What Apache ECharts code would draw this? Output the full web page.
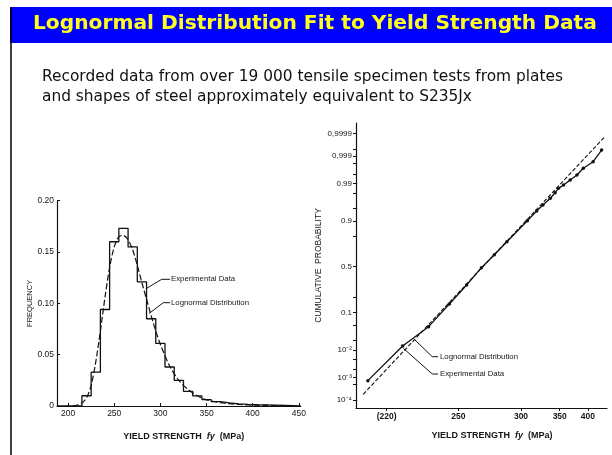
<!DOCTYPE html>
<html><head><meta charset="utf-8">
<script src="https://cdn.jsdelivr.net/npm/echarts@6/dist/echarts.min.js"></script>
<style>html,body{margin:0;padding:0;background:#fff}#c{width:612px;height:455px}</style>
</head><body><div id="c"></div>
<script>
// ---------- data ----------
// Left: histogram of yield strength, 10 MPa bins (lower edges) and relative frequency
const histBinStart = [215,225,235,245,255,265,275,285,295,305,315,325,335,345,355,365,375,385,395,405,415,425];
const histFreq     = [0.010,0.033,0.094,0.160,0.173,0.155,0.121,0.085,0.061,0.038,0.025,0.0143,0.0098,0.0063,0.0043,0.003,0.002,0.0015,0.0012,0.001,0.0008,0.0005];
const histBinWidth = 10;
// Left: fitted lognormal frequency curve
const lognPdfX = [205,210,215,220,225,230,235,240,245,250,255,260,265,270,275,280,285,290,295,300,310,320,330,340,350,360,370,380,390,400,420,440];
const lognPdfY = [0,0.001,0.003,0.008,0.020,0.043,0.073,0.106,0.135,0.155,0.165,0.166,0.162,0.152,0.137,0.120,0.104,0.088,0.073,0.060,0.039,0.025,0.016,0.010,0.006,0.004,0.0027,0.0018,0.0012,0.0008,0.0004,0.0002];
// Right: cumulative probability, experimental points
const expX = [215,225,235,245,255,265,275,286,307,318,326,336,343,348,356,367,379,391,411,430];
const expP = [0.00073,0.0134,0.047,0.149,0.305,0.489,0.631,0.757,0.9006,0.940,0.9576,0.972,0.9806,0.9857,0.98876,0.99228,0.99478,0.99701,0.99832,0.99944];
// Right: fitted lognormal (straight line on the probability paper)
const lognCdfX = [213.9, 437.9];
const lognCdfP = [0.000183, 0.999861];
// axis ticks
const leftXTicks = [200,250,300,350,400,450];
const leftYTicks = [0,0.05,0.10,0.15,0.20];
const leftYTickLabels = ['0','0.05','0.10','0.15','0.20'];
const rightXTicks = [220,250,300,350,400];
const rightXTickLabels = ['(220)','250','300','350','400'];
const rightYTicks = [0.0001,0.001,0.01,0.1,0.5,0.9,0.99,0.999,0.9999];
const rightYTickLabels = ['10\u207B\u2074','10\u207B\u00B3','10\u207B\u00B2','0.1','0.5','0.9','0.99','0,999','0,9999'];
const rightYMinor = [0.0005,0.002,0.005,0.02,0.05,0.2,0.8,0.95,0.98,0.995,0.998,0.9995];
const THRESHOLD = 190; // lognormal paper: log(fy - 190)

// ---------- probability-paper scale (inverse normal CDF) ----------
function probit(p){
  const a=[-3.969683028665376e+01,2.209460984245205e+02,-2.759285104469687e+02,1.383577518672690e+02,-3.066479806614716e+01,2.506628277459239e+00];
  const b=[-5.447609879822406e+01,1.615858368580409e+02,-1.556989798598866e+02,6.680131188771972e+01,-1.328068155288572e+01];
  const c=[-7.784894002430293e-03,-3.223964580411365e-01,-2.400758277161838e+00,-2.549732539343734e+00,4.374664141464968e+00,2.938163982698783e+00];
  const d=[7.784695709041462e-03,3.224671290700398e-01,2.445134137142996e+00,3.754408661907416e+00];
  const pl=0.02425, ph=1-pl; let q,r;
  if(p<pl){q=Math.sqrt(-2*Math.log(p));return (((((c[0]*q+c[1])*q+c[2])*q+c[3])*q+c[4])*q+c[5])/((((d[0]*q+d[1])*q+d[2])*q+d[3])*q+1);}
  if(p>ph){q=Math.sqrt(-2*Math.log(1-p));return -(((((c[0]*q+c[1])*q+c[2])*q+c[3])*q+c[4])*q+c[5])/((((d[0]*q+d[1])*q+d[2])*q+d[3])*q+1);}
  q=p-0.5;r=q*q;return (((((a[0]*r+a[1])*r+a[2])*r+a[3])*r+a[4])*r+a[5])*q/(((((b[0]*r+b[1])*r+b[2])*r+b[3])*r+b[4])*r+1);
}

// ---------- build series data ----------
const histData = [[188,0]];
histBinStart.forEach((x,i)=>histData.push([x,histFreq[i]]));
histData.push([histBinStart[histBinStart.length-1]+histBinWidth,0]);
histData.push([452,0]);
const pdfData = lognPdfX.map((x,i)=>[x,lognPdfY[i]]);
const expData = expX.map((x,i)=>[x-THRESHOLD, probit(expP[i])]);
const cdfData = lognCdfX.map((x,i)=>[x-THRESHOLD, probit(lognCdfP[i])]);
const rYMajor = rightYTicks.map(probit);
const rYAll = rYMajor.concat(rightYMinor.map(probit));
const rXVals = rightXTicks.map(v=>v-THRESHOLD);

const FONT = 'Liberation Sans';
const TXT = '#151515';
const axisLineStyle = {color:'#111', width:1.2};

const chart = echarts.init(document.getElementById('c'), null, {renderer:'canvas'});
chart.setOption({
  animation:false,
  backgroundColor:'#fff',
  title:[
    {text:'Lognormal Distribution Fit to Yield Strength Data', left:33, top:14, padding:0,
     textStyle:{fontFamily:'DejaVu Sans', fontSize:20.2, fontWeight:'bold', color:'#ffff1a'}},
    {text:'Recorded data from over 19 000 tensile specimen tests from plates\nand shapes of steel approximately equivalent to S235Jx',
     left:42, top:67, padding:0,
     textStyle:{fontFamily:'DejaVu Sans', fontSize:15.4, fontWeight:'normal', color:'#111', lineHeight:20}}
  ],
  graphic:[
    {type:'rect', z:-10, shape:{x:10,y:7,width:602,height:36}, style:{fill:'#0000ff'}},
    {type:'line', shape:{x1:11,y1:7,x2:11,y2:455}, style:{stroke:'#000', lineWidth:1.5}},
    // left annotations
    {type:'polyline', shape:{points:[[170,279.3],[161.7,279.3],[146.7,288.3]]}, style:{stroke:'#111', lineWidth:1, fill:null}},
    {type:'text', x:171, y:279.3, style:{text:'Experimental Data', fontFamily:FONT, fontSize:7.8, fill:TXT, verticalAlign:'middle'}},
    {type:'polyline', shape:{points:[[170,302.7],[163.3,302.7],[149.3,313.3]]}, style:{stroke:'#111', lineWidth:1, fill:null}},
    {type:'text', x:171, y:302.7, style:{text:'Lognormal Distribution', fontFamily:FONT, fontSize:7.8, fill:TXT, verticalAlign:'middle'}},
    // right annotations
    {type:'polyline', shape:{points:[[438,356.7],[432.3,356.7],[415,340]]}, style:{stroke:'#111', lineWidth:1, fill:null}},
    {type:'text', x:440, y:356.7, style:{text:'Lognormal Distribution', fontFamily:FONT, fontSize:7.8, fill:TXT, verticalAlign:'middle'}},
    {type:'polyline', shape:{points:[[438,374],[432.3,374],[403.3,348.3]]}, style:{stroke:'#111', lineWidth:1, fill:null}},
    {type:'text', x:440, y:374, style:{text:'Experimental Data', fontFamily:FONT, fontSize:7.8, fill:TXT, verticalAlign:'middle'}}
  ],
  grid:[
    {left:57, top:200.7, width:243.7, height:205.3},
    {left:356, top:123, width:251, height:285}
  ],
  xAxis:[
    {gridIndex:0, type:'value', min:188, max:452,
     axisLine:{onZero:false, lineStyle:axisLineStyle}, splitLine:{show:false},
     axisTick:{inside:true, length:3, customValues:leftXTicks, lineStyle:{color:'#111'}},
     axisLabel:{customValues:leftXTicks, margin:3, fontFamily:FONT, fontSize:8.5, color:TXT},
     name:'YIELD STRENGTH  {i|fy}  (MPa)', nameLocation:'middle', nameGap:26,
     nameTextStyle:{fontFamily:FONT, fontSize:9, fontWeight:'bold', color:TXT, padding:[0,0,0,10],
       rich:{i:{fontFamily:FONT, fontSize:9, fontWeight:'bold', fontStyle:'italic', color:TXT}}}},
    {gridIndex:1, type:'log', logBase:10, min:22.29, max:252.8,
     axisLine:{onZero:false, lineStyle:axisLineStyle}, splitLine:{show:false}, minorTick:{show:false},
     axisTick:{length:3, customValues:rXVals, lineStyle:{color:'#111'}},
     axisLabel:{customValues:rXVals, margin:4, fontFamily:FONT, fontSize:8.5, fontWeight:'bold', color:TXT,
       formatter:(v)=>{const i=rXVals.findIndex(t=>Math.abs(t-v)<0.05);return i>=0?rightXTickLabels[i]:'';}},
     name:'YIELD STRENGTH  {i|fy}  (MPa)', nameLocation:'middle', nameGap:23,
     nameTextStyle:{fontFamily:FONT, fontSize:9, fontWeight:'bold', color:TXT, padding:[0,0,0,21],
       rich:{i:{fontFamily:FONT, fontSize:9, fontWeight:'bold', fontStyle:'italic', color:TXT}}}}
  ],
  yAxis:[
    {gridIndex:0, type:'value', min:0, max:0.2, interval:0.05,
     axisLine:{show:true, onZero:false, lineStyle:axisLineStyle}, splitLine:{show:false},
     axisTick:{show:true, inside:true, length:3, lineStyle:{color:'#111'}},
     axisLabel:{margin:3, fontFamily:FONT, fontSize:8.5, color:TXT,
       formatter:(v)=>{const i=leftYTicks.findIndex(t=>Math.abs(t-v)<1e-6);return i>=0?leftYTickLabels[i]:'';}},
     name:'FREQUENCY', nameLocation:'middle', nameGap:21,
     nameTextStyle:{fontFamily:FONT, fontSize:7.5, color:TXT}},
    {gridIndex:1, type:'value', min:-3.947, max:4.014,
     axisLine:{show:true, onZero:false, lineStyle:axisLineStyle}, splitLine:{show:false},
     axisTick:{show:true, length:3, customValues:rYAll, lineStyle:{color:'#111'}},
     axisLabel:{customValues:rYMajor, margin:4, fontFamily:FONT, fontSize:8, color:TXT,
       formatter:(v)=>{const i=rYMajor.findIndex(t=>Math.abs(t-v)<1e-4);return i>=0?rightYTickLabels[i]:'';}},
     name:'CUMULATIVE  PROBABILITY', nameLocation:'middle', nameGap:17,
     nameTextStyle:{fontFamily:FONT, fontSize:8.5, color:TXT}}
  ],
  series:[
    {name:'Experimental Data (histogram)', type:'line', xAxisIndex:0, yAxisIndex:0, step:'end', data:histData,
     showSymbol:false, lineStyle:{color:'#111', width:1.3}},
    {name:'Lognormal Distribution (pdf)', type:'line', xAxisIndex:0, yAxisIndex:0, data:pdfData, smooth:0.3,
     showSymbol:false, lineStyle:{color:'#111', width:1.2, type:[6,2.5]}},
    {name:'Experimental Data', type:'line', xAxisIndex:1, yAxisIndex:1, data:expData,
     symbol:'circle', symbolSize:3.5, itemStyle:{color:'#111'}, lineStyle:{color:'#111', width:1.3}},
    {name:'Lognormal Distribution', type:'line', xAxisIndex:1, yAxisIndex:1, data:cdfData,
     showSymbol:false, lineStyle:{color:'#111', width:1.1, type:[4,2]}}
  ]
});
</script></body></html>
